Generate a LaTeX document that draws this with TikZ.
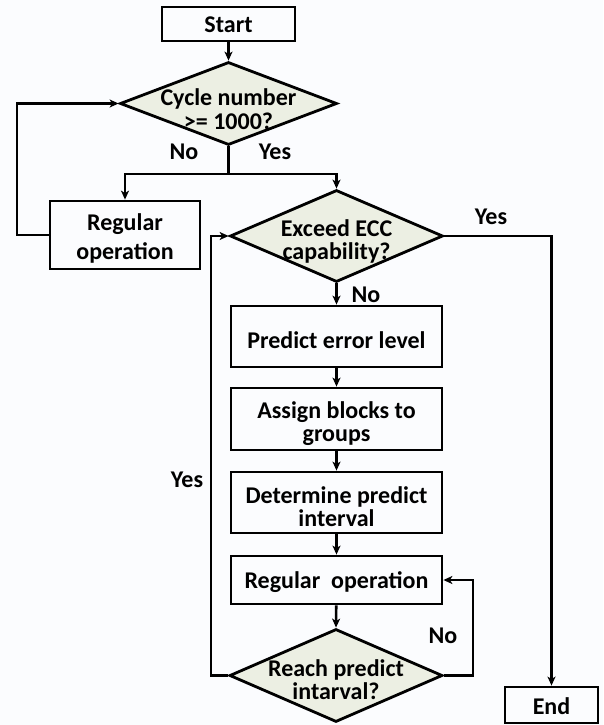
\documentclass[tikz,border=0pt]{standalone}
\usepackage{fontspec}
\setmainfont{Carlito}
\usetikzlibrary{shapes.geometric,arrows.meta}
\definecolor{dfill}{HTML}{ECEFE3}
\definecolor{bgc}{HTML}{FBFCFE}
\begin{document}
\begin{tikzpicture}[x=1pt,y=-1pt,
  every node/.style={font=\bfseries\fontsize{24}{24}\selectfont, align=center},
  box/.style={draw, line width=2.8pt, rectangle, inner sep=0pt},
  dia/.style={draw, line width=2.8pt, diamond, fill=dfill, inner sep=0pt, aspect=2},
  conn/.style={line width=2.6pt},
  arr/.style={conn, -{Stealth[length=9pt,width=8pt,inset=2.5pt]}},
  lbl/.style={inner sep=0pt}
]
\fill[bgc] (0,0) rectangle (603,725);
\useasboundingbox (0,0) rectangle (603,725);

% shapes
\node[box, minimum width=133, minimum height=34] (start) at (228.5,24) {};
\node[dia, minimum width=217, minimum height=83] (d1) at (228.5,103.5) {};
\node[box, minimum width=150, minimum height=68] (reg1) at (125,235) {};
\node[dia, minimum width=213, minimum height=92] (d2) at (336.5,236) {};
\node[box, minimum width=211, minimum height=61] (pred) at (336.5,336.5) {};
\node[box, minimum width=211, minimum height=62] (assign) at (336.5,419) {};
\node[box, minimum width=211, minimum height=61] (det) at (336.5,502.5) {};
\node[box, minimum width=211, minimum height=48] (reg2) at (336.5,580) {};
\node[dia, minimum width=213, minimum height=93] (d3) at (336,675.5) {};
\node[box, minimum width=93, minimum height=36] (end) at (551.5,705) {};

% texts
\node[lbl] (startt) at (228.5,25) {Start};
\node[lbl] (d1t) at (228.5,109) {Cycle number\\[-0.5pt] >= 1000?};
\node[lbl] (reg1t) at (125,238.5) {Regular\\[4.5pt] operation};
\node[lbl] (d2t) at (336.5,241) {Exceed ECC\\[-1pt] capability?};
\node[lbl] (predt) at (336.5,340.5) {Predict error level};
\node[lbl] (assignt) at (336.5,424) {Assign blocks to\\[-1pt] groups};
\node[lbl] (dett) at (336.5,506.5) {Determine predict\\[-1pt] interval};
\node[lbl] (reg2t) at (336.5,582) {Regular\ \ operation};
\node[lbl] (d3t) at (336,680) {Reach predict\\[-1pt] intarval?};
\node[lbl] (endt) at (551.5,706) {End};

% labels
\node[lbl] (l1) at (184,152) {No};
\node[lbl] (l2) at (275,152) {Yes};
\node[lbl] (l3) at (491,217) {Yes};
\node[lbl] (l4) at (366,295) {No};
\node[lbl] (l5) at (187,480) {Yes};
\node[lbl] (l6) at (443,636) {No};

% connectors
\coordinate (split) at (228.5,174);
\draw[arr] (start) -- (d1);
\draw[conn] (d1.south) -- (split);
\draw[arr] (split) -| (reg1.north);
\draw[arr] (split) -| (d2.north);
\coordinate (lp1) at (17,235);
\draw[arr] (reg1.west) -- (lp1) |- (d1.west);
\draw[arr] (d2.east) -| (end.north);
\draw[arr] (d2.south) -- (pred.north);
\draw[arr] (pred) -- (assign);
\draw[arr] (assign) -- (det);
\draw[arr] (det) -- (reg2);
\draw[arr] (reg2) -- (d3.north);
\coordinate (lp2) at (211,675.5);
\draw[arr] (d3.west) -- (lp2) |- (d2.west);
\coordinate (lp3) at (473,675.5);
\draw[arr] (d3.east) -- (lp3) |- (reg2.east);
\end{tikzpicture}
\end{document}
